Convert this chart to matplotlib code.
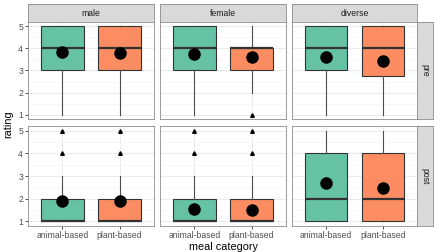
import numpy as np
import matplotlib.pyplot as plt

plt.rcParams['font.family'] = ['Liberation Sans', 'DejaVu Sans']

genders = ["male", "female", "diverse"]
times = ["pre", "post"]
categories = ["animal-based", "plant-based"]
colors = ["#66C2A5", "#FC8D62"]

# box stats per time -> gender -> category: (whislo, q1, med, q3, whishi)
pre_stats = {
    "male":    [(1, 3, 4, 5, 5), (1, 3, 4, 5, 5)],
    "female":  [(1, 3, 4, 5, 5), (2, 3, 4, 4, 5)],
    "diverse": [(1, 3, 4, 5, 5), (1, 2.75, 4, 5, 5)],
}
post_stats = {
    "male":    [(1, 1, 1, 2, 3), (1, 1, 1, 2, 3)],
    "female":  [(1, 1, 1, 2, 3), (1, 1, 1, 2, 3)],
    "diverse": [(1, 1, 2, 4, 5), (1, 1, 2, 4, 5)],
}
pre_outliers = {
    "male": [[], []],
    "female": [[], [1]],
    "diverse": [[], []],
}
post_outliers = {
    "male": [[4, 5], [4, 5]],
    "female": [[4, 5], [4, 5]],
    "diverse": [[], []],
}
pre_means = {"male": [3.85, 3.78], "female": [3.76, 3.63], "diverse": [3.6, 3.45]}
post_means = {"male": [1.9, 1.9], "female": [1.57, 1.52], "diverse": [2.7, 2.48]}

W, H = 434, 252
fig = plt.figure(figsize=(W / 100, H / 100), dpi=100)

col_x = [(28, 154), (160, 286), (292, 417)]
row_y = {"pre": (22, 119), "post": (126, 226)}
stats = {"pre": pre_stats, "post": post_stats}
outl = {"pre": pre_outliers, "post": post_outliers}
means = {"pre": pre_means, "post": post_means}

border = "#8C8C8C"
tickc = "#4D4D4D"


def frac(x0, y0, x1, y1):
    return [x0 / W, 1 - y1 / H, (x1 - x0) / W, (y1 - y0) / H]


for j, g in enumerate(genders):
    x0, x1 = col_x[j]
    # strip on top
    sax = fig.add_axes(frac(x0, 4, x1, 22))
    sax.set_facecolor("#D9D9D9")
    sax.set_xticks([]); sax.set_yticks([])
    for s in sax.spines.values():
        s.set_color(border); s.set_linewidth(0.6)
    sax.text(0.5, 0.5, g, ha="center", va="center", fontsize=6.2,
             color="#1A1A1A", transform=sax.transAxes)

    for i, t in enumerate(times):
        y0, y1 = row_y[t]
        ax = fig.add_axes(frac(x0, y0, x1, y1))
        ax.set_xlim(0.4, 2.6)
        ax.set_ylim(0.8, 5.2)
        for yy in [1.5, 2.5, 3.5, 4.5]:
            ax.axhline(yy, color="#F2F2F2", lw=0.4, zorder=0)
        for yy in [1, 2, 3, 4, 5]:
            ax.axhline(yy, color="#EBEBEB", lw=0.7, zorder=0)
        for xx in [1, 2]:
            ax.axvline(xx, color="#EBEBEB", lw=0.7, zorder=0)

        bstats = []
        for k, c in enumerate(categories):
            lo, q1, med, q3, hi = stats[t][g][k]
            bstats.append(dict(whislo=lo, q1=q1, med=med, q3=q3, whishi=hi,
                               fliers=[], label=c))
        bp = ax.bxp(bstats, positions=[1, 2], widths=0.75, patch_artist=True,
                    showcaps=False, showfliers=False,
                    boxprops=dict(edgecolor="#333333", linewidth=0.8),
                    whiskerprops=dict(color="#4D4D4D", linewidth=0.8),
                    medianprops=dict(color="#333333", linewidth=1.6),
                    zorder=2)
        for patch, col in zip(bp["boxes"], colors):
            patch.set_facecolor(col)

        for k in range(2):
            o = outl[t][g][k]
            if o:
                ax.plot([k + 1] * len(o), o, ls="none", marker="^",
                        ms=2.6, color="black", zorder=3)
        ax.plot([1, 2], means[t][g], ls="none", marker="o", ms=8,
                color="black", zorder=4)

        for s in ax.spines.values():
            s.set_color(border); s.set_linewidth(0.6)
        ax.tick_params(colors="#333333", length=2.5, width=0.6,
                       labelsize=6.2, labelcolor=tickc, pad=1)
        ax.set_yticks([1, 2, 3, 4, 5])
        ax.set_xticks([1, 2])
        if j == 0:
            ax.set_yticklabels(["1", "2", "3", "4", "5"])
        else:
            ax.tick_params(axis="y", left=False, labelleft=False)
        if t == "post":
            ax.set_xticklabels(categories)
        else:
            ax.tick_params(axis="x", bottom=False, labelbottom=False)

        if j == 2:
            rax = fig.add_axes(frac(417, y0, 433, y1))
            rax.set_facecolor("#D9D9D9")
            rax.set_xticks([]); rax.set_yticks([])
            for s in rax.spines.values():
                s.set_color(border); s.set_linewidth(0.6)
            rax.text(0.5, 0.5, t, ha="center", va="center", fontsize=6.2,
                     rotation=-90, color="#1A1A1A", transform=rax.transAxes)

fig.text(8 / W, 1 - 124 / H, "rating", rotation=90, ha="center", va="center",
         fontsize=7.8, color="black")
fig.text(223 / W, 1 - 246.5 / H, "meal category", ha="center", va="center",
         fontsize=7.8, color="black")

fig.savefig("out.png", dpi=100)
